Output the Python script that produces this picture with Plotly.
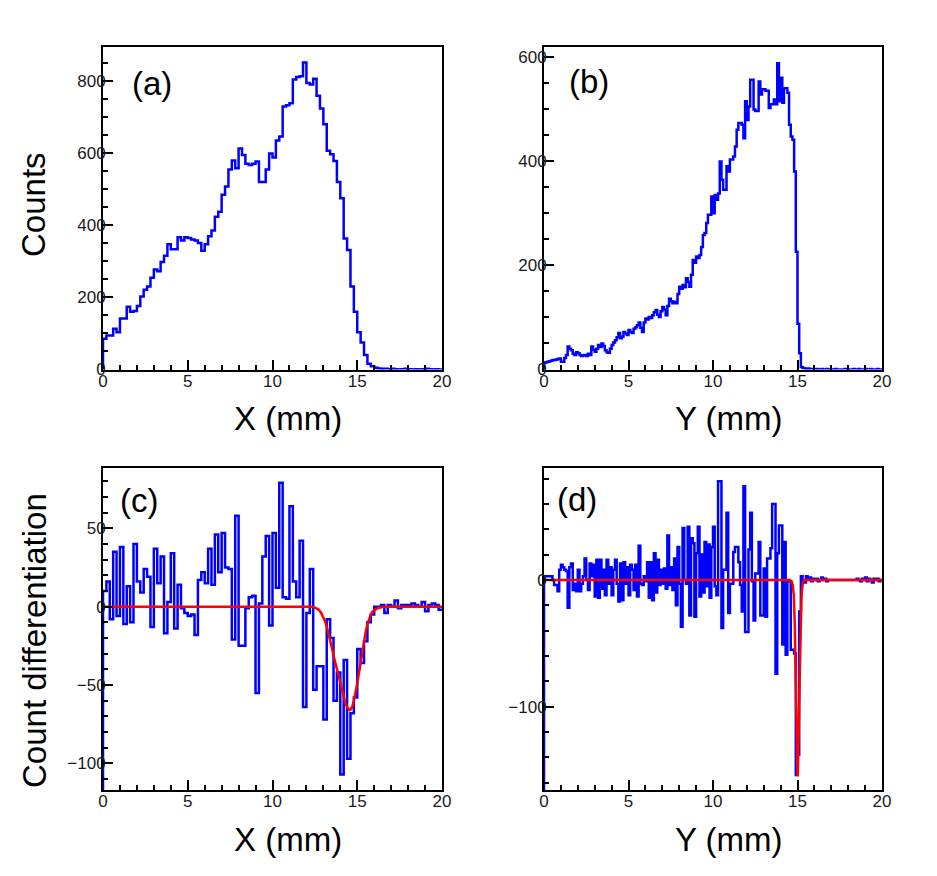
import plotly.graph_objects as go

# ---- data ----
# (a) counts along X, 100 bins of 0.2 mm
x_bin_width = 0.2
counts_x = [85, 94, 94, 113, 103, 141, 141, 174, 160, 162,
            176, 202, 221, 230, 254, 277, 272, 298, 315, 347,
            333, 333, 366, 357, 366, 364, 360, 357, 350, 329,
            347, 369, 385, 423, 437, 484, 507, 554, 579, 557,
            612, 594, 570, 566, 570, 576, 519, 519, 554, 598,
            587, 634, 645, 728, 732, 737, 803, 810, 812, 850,
            793, 789, 805, 758, 723, 679, 606, 596, 577, 519,
            474, 363, 331, 230, 160, 103, 75, 40, 16, 9,
            5, 3, 2, 2, 1, 2, 1, 0, 1, 2,
            1, 0, 1, 0, 1, 2, 1, 0, 1, 0]

# (b) counts along Y, 200 bins of 0.1 mm
y_bin_width = 0.1
counts_y = [13, 14, 15, 16, 17, 18, 18, 19, 20, 21,
            15, 15, 22, 28, 44, 40, 37, 30, 28, 33,
            31, 28, 26, 27, 28, 26, 30, 28, 44, 38,
            34, 40, 47, 43, 50, 45, 37, 33, 32, 40,
            47, 52, 56, 62, 70, 60, 63, 72, 69, 66,
            76, 72, 70, 78, 81, 85, 90, 80, 72, 90,
            98, 96, 101, 99, 104, 110, 114, 105, 101, 112,
            120, 115, 104, 122, 136, 131, 127, 130, 127, 145,
            159, 155, 162, 158, 175, 168, 159, 182, 210, 205,
            217, 214, 220, 235, 258, 262, 281, 297, 297, 332,
            300, 335, 326, 338, 399, 364, 345, 345, 390, 380,
            403, 403, 409, 428, 460, 473, 473, 470, 444, 515,
            479, 505, 556, 556, 499, 496, 496, 553, 528, 538,
            538, 535, 535, 502, 509, 509, 518, 509, 588, 515,
            560, 512, 540, 540, 531, 470, 447, 441, 380, 226,
            88, 31, 5, 3, 2, 1, 2, 1, 0, 1,
            0, 1, 0, 0, 1, 0, 0, 1, 0, 0,
            0, 0, 1, 0, 0, 0, 0, 0, 1, 0,
            0, 0, 0, 1, 0, 0, 1, 0, 0, 0,
            1, 0, 0, 1, 0, 0, 0, 1, 0, 0]

# (c) count differentiation along X
diff_x = [10, 16, -8, 35, -6, 38, -11, 13, -10, 40,
          16, 9, 24, 19, -13, 37, 15, 32, -17, 3,
          34, -14, 14, -1, -4, -6, -5, -18, 17, 22,
          15, 37, 14, 46, 22, 47, 25, 24, -21, 58,
          -25, -25, -1, 6, 7, -55, 2, 32, 45, -12,
          47, 12, 79, 6, 5, 64, 16, 6, 42, -64,
          -4, 24, -53, -38, -38, -72, -8, -20, -60, -42,
          -107, -34, -97, -68, -58, -27, -36, -22, -10, -5,
          0, 0, 1, -4, 1, 0, 4, -1, 1, 1,
          1, 2, 1, 0, 3, -3, 1, 2, 1, -2]

# (d) count differentiation along Y
diff_y = [3, 3, 3, 3, 3, 0, -4, -4, -9, 8,
          12, 10, 8, 7, -22, 10, 13, -8, -3, -9,
          8, -9, -3, 3, 17, 0, -8, 13, 3, 12,
          -13, 16, -14, 16, -7, 8, -12, 16, -3, 10,
          -12, 8, 16, -3, -17, 13, -16, 14, -3, 10,
          -12, 12, 8, -8, 12, -13, 27, -3, -4, 3,
          -1, 14, -14, 14, -16, 21, -10, 16, -4, 8,
          -3, 9, -7, 35, -4, 10, -8, 17, -20, 26,
          -3, -37, 41, 0, -3, 42, -28, 33, 29, -29,
          21, 42, -13, 20, -10, 30, -5, 28, -14, 26,
          42, -5, -12, 78, 78, -38, 8, 8, 53, -26,
          -3, -3, 22, 26, 26, 14, -4, -25, 74, -41,
          -41, 24, 53, -1, -32, 5, 5, 30, -28, -28,
          9, -29, 17, 17, 25, 60, 60, -74, 21, 43,
          43, -51, 30, -59, -1, -1, -55, -55, -58, -154,
          -138, -25, 3, -1, -2, 3, 1, 2, -1, 1,
          0, 1, -1, 0, 2, 0, 1, -1, 0, 0,
          0, 0, 0, 0, 0, 0, 0, 0, 0, 0,
          0, 0, 0, 0, 0, 1, 0, -1, 1, 0,
          2, -1, 1, 0, -2, 1, 0, 1, -1, 0]

# red fit curves
fit_c_x = [0, 12.3, 12.5, 12.7, 12.85, 13.0, 13.1, 13.2, 13.3, 13.4, 13.5,
           13.6, 13.7, 13.8, 13.9, 14.0, 14.1, 14.2, 14.3, 14.4, 14.5,
           14.55, 14.6, 14.7, 14.8, 14.9, 15.0, 15.1, 15.2, 15.3, 15.4,
           15.5, 15.6, 15.7, 15.8, 15.9, 16.05, 16.2, 16.4, 16.6, 20]
fit_c_y = [0, 0, -0.6, -1.7, -3.6, -6.4, -9.2, -12.8, -16.8, -21, -26,
           -31, -35.5, -40, -45, -50, -54.5, -58.5, -61.5, -64, -65.7,
           -66, -65.7, -64, -60, -55, -49, -42.5, -35.5, -28.7, -22,
           -16, -11.2, -7.4, -5, -3.2, -1.8, -1, -0.4, 0, 0]
fit_d_x = [0, 14.55, 14.65, 14.72, 14.78, 14.81, 14.84, 14.87, 14.9, 14.93,
           14.95, 14.98, 15.0, 15.02, 15.05, 15.08, 15.1, 15.13, 15.15, 15.18,
           15.2, 15.23, 15.26, 15.32, 15.4, 20]
fit_d_y = [0, 0, -1, -4, -12, -21, -35, -58, -85, -115,
           -135, -151, -155, -153, -140, -117, -100, -78, -60, -40,
           -28, -16, -9, -2, 0, 0]

# ---- layout constants ----
W, H = 937, 876
FONT = "Liberation Sans, Arial, sans-serif"
BLUE = "#0000ff"
RED = "#ff0000"


def step_xy(values, width, floor):
    """ROOT-like histogram outline: rises from the frame bottom at x=0"""
    xs = [0.0]
    ys = [floor]
    for i, v in enumerate(values):
        xs.append(round(i * width, 4))
        ys.append(v)
    xs.append(round(len(values) * width, 4))
    ys.append(values[-1])
    return xs, ys


def px_x(p):
    return p / W


def px_y(p):
    return 1 - p / H


panels = [
    # name, values, width, y range, y dtick, y minor, x domain px, y domain px
    ("1", counts_x, x_bin_width, [0, 893], 200, 50, (103, 442), (47, 369.5)),
    ("2", counts_y, y_bin_width, [0, 619], 200, 50, (544, 882), (47, 369.5)),
    ("3", diff_x, x_bin_width, [-116.9, 88.6], 50, 10, (103, 442), (467.7, 790)),
    ("4", diff_y, y_bin_width, [-165.8, 88.6], 100, 20, (544, 882), (467.7, 790)),
]

fig = go.Figure()
layout = dict(
    width=W, height=H,
    margin=dict(l=0, r=0, t=0, b=0, pad=0, autoexpand=False),
    paper_bgcolor="white", plot_bgcolor="white",
    showlegend=False,
    font=dict(family=FONT, size=17, color="#1a1a1a"),
)

for name, vals, width, yr, ydt, ymin_dt, xd, yd in panels:
    xs, ys = step_xy(vals, width, yr[0])
    xa = "x" if name == "1" else "x" + name
    ya = "y" if name == "1" else "y" + name
    fig.add_trace(go.Scatter(x=xs, y=ys, mode="lines", line_shape="hv",
                             line=dict(color=BLUE, width=2.5),
                             xaxis=xa, yaxis=ya, hoverinfo="skip"))
    axis_common = dict(
        showline=True, linecolor="black", linewidth=2, mirror=True,
        ticks="inside", tickcolor="black", tickwidth=1.5,
        showgrid=False, zeroline=False, automargin=False,
        tickfont=dict(family=FONT, size=17, color="#1a1a1a"),
    )
    layout["xaxis" + ("" if name == "1" else name)] = dict(
        axis_common, domain=[px_x(xd[0]), px_x(xd[1])], range=[0, 20],
        anchor=ya, tick0=0, dtick=5, ticklen=10, ticklabelstandoff=-5,
        minor=dict(dtick=1, ticklen=5, ticks="inside", tickcolor="black", tickwidth=1.5),
    )
    layout["yaxis" + ("" if name == "1" else name)] = dict(
        axis_common, domain=[px_y(yd[1]), px_y(yd[0])], range=yr,
        anchor=xa, tick0=0, dtick=ydt, ticklen=10, ticklabelstandoff=-8,
        minor=dict(dtick=ymin_dt, ticklen=5, ticks="inside", tickcolor="black", tickwidth=1.5),
    )

# fits
fig.add_trace(go.Scatter(x=fit_c_x, y=fit_c_y, mode="lines",
                         line=dict(color=RED, width=2.5), xaxis="x3", yaxis="y3",
                         hoverinfo="skip"))
fig.add_trace(go.Scatter(x=fit_d_x, y=fit_d_y, mode="lines",
                         line=dict(color=RED, width=2.5), xaxis="x4", yaxis="y4",
                         hoverinfo="skip"))

# titles and panel labels
notes = [
    ("Counts", 34, 205, -90),
    ("Count differentiation", 34, 641, -90),
    ("X (mm)", 288, 418, 0),
    ("Y (mm)", 729, 418, 0),
    ("X (mm)", 288, 839, 0),
    ("Y (mm)", 729, 839, 0),
    ("(a)", 152, 84, 0),
    ("(b)", 589, 81, 0),
    ("(c)", 139, 500, 0),
    ("(d)", 577, 499, 0),
]
layout["annotations"] = [
    dict(text=t, x=px_x(cx), y=px_y(cy), xref="paper", yref="paper",
         xanchor="center", yanchor="middle", showarrow=False, textangle=ang,
         font=dict(family=FONT, size=33, color="black"))
    for t, cx, cy, ang in notes
]

fig.update_layout(**layout)
# drop the browser's default page margin so the figure sits at the window corner
fig.write_html("out.html", config={"displayModeBar": False},
               post_script="document.body.style.margin='0px';")
